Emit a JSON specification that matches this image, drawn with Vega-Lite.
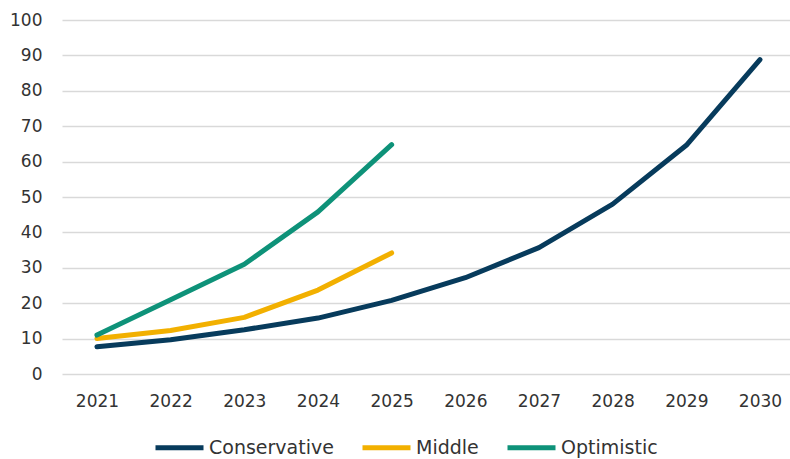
{
  "$schema": "https://vega.github.io/schema/vega-lite/v6.json",
  "width": 728,
  "height": 354,
  "autosize": {"type": "none"},
  "padding": {"left": 62, "top": 20, "right": 0, "bottom": 85},
  "background": "white",
  "config": {
    "view": {"stroke": null},
    "font": "DejaVu Sans",
    "axis": {"labelFont": "DejaVu Sans", "labelFontSize": 17, "labelColor": "#333333"},
    "legend": {"labelFont": "DejaVu Sans", "labelFontSize": 19, "labelColor": "#333333"}
  },
  "data": {
    "values": [
      {"year": "2021", "scenario": "Conservative", "value": 7.7},
      {"year": "2022", "scenario": "Conservative", "value": 9.7},
      {"year": "2023", "scenario": "Conservative", "value": 12.5},
      {"year": "2024", "scenario": "Conservative", "value": 15.8},
      {"year": "2025", "scenario": "Conservative", "value": 20.8},
      {"year": "2026", "scenario": "Conservative", "value": 27.2},
      {"year": "2027", "scenario": "Conservative", "value": 35.7},
      {"year": "2028", "scenario": "Conservative", "value": 48.0},
      {"year": "2029", "scenario": "Conservative", "value": 64.6},
      {"year": "2030", "scenario": "Conservative", "value": 88.8},
      {"year": "2021", "scenario": "Middle", "value": 10.0},
      {"year": "2022", "scenario": "Middle", "value": 12.3},
      {"year": "2023", "scenario": "Middle", "value": 16.0},
      {"year": "2024", "scenario": "Middle", "value": 23.7},
      {"year": "2025", "scenario": "Middle", "value": 34.2},
      {"year": "2021", "scenario": "Optimistic", "value": 11.0},
      {"year": "2022", "scenario": "Optimistic", "value": 21.0},
      {"year": "2023", "scenario": "Optimistic", "value": 31.0},
      {"year": "2024", "scenario": "Optimistic", "value": 45.8},
      {"year": "2025", "scenario": "Optimistic", "value": 64.8}
    ]
  },
  "mark": {"type": "line", "strokeWidth": 5, "strokeCap": "round", "strokeJoin": "round"},
  "encoding": {
    "x": {
      "field": "year", "type": "ordinal",
      "scale": {"type": "point", "padding": 0.441, "align": 0.538},
      "axis": {"title": null, "labelAngle": 0, "domain": false, "ticks": false, "grid": false, "labelPadding": 19}
    },
    "y": {
      "field": "value", "type": "quantitative",
      "scale": {"domain": [0, 100], "nice": false},
      "axis": {"title": null, "values": [0,10,20,30,40,50,60,70,80,90,100], "domain": false, "ticks": false, "labelPadding": 20, "gridColor": "#d9d9d9", "gridWidth": 1.5}
    },
    "color": {
      "field": "scenario", "type": "nominal",
      "scale": {"domain": ["Conservative", "Middle", "Optimistic"], "range": ["#073b5c", "#f2b000", "#0e9279"]},
      "legend": {
        "title": null, "orient": "none", "direction": "horizontal",
        "legendX": 91, "legendY": 401,
        "symbolType": "stroke", "symbolSize": 2304, "symbolStrokeWidth": 5,
        "labelOffset": 3, "columnPadding": 18
      }
    }
  }
}
